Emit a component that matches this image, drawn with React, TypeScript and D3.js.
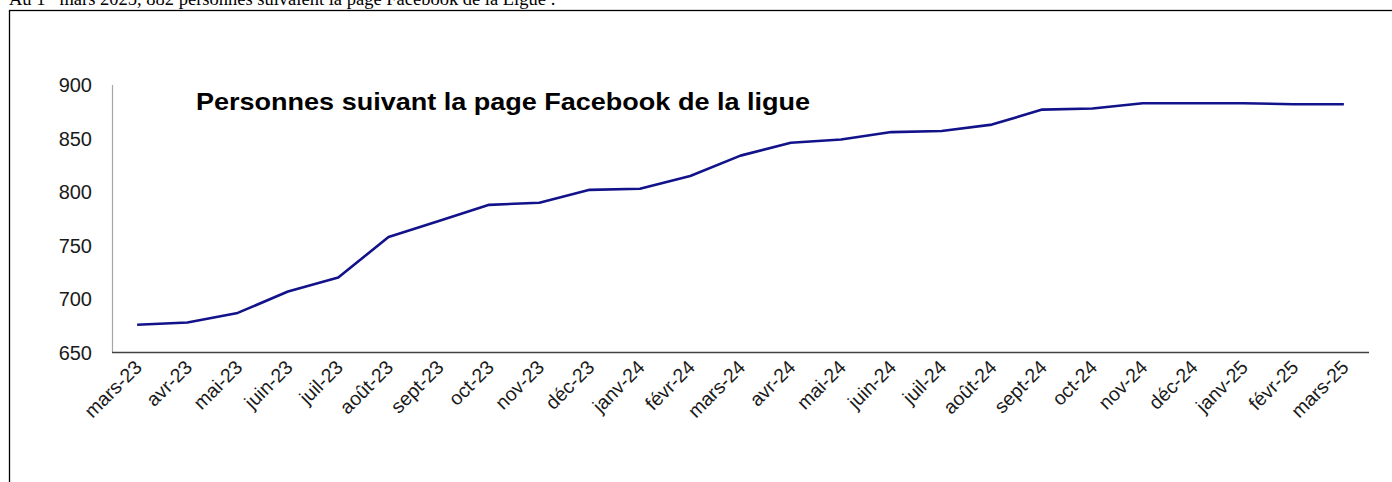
import React, { useEffect, useRef } from "react";
import * as d3 from "d3";

const months = [
  "mars-23", "avr-23", "mai-23", "juin-23", "juil-23", "août-23", "sept-23",
  "oct-23", "nov-23", "déc-23", "janv-24", "févr-24", "mars-24", "avr-24",
  "mai-24", "juin-24", "juil-24", "août-24", "sept-24", "oct-24", "nov-24",
  "déc-24", "janv-25", "févr-25", "mars-25",
];
const followers = [
  676, 678, 687, 707, 720, 758, 773, 788, 790, 802, 803, 815, 834, 846,
  849, 856, 857, 863, 877, 878, 883, 883, 883, 882, 882,
];
const yTicks = [650, 700, 750, 800, 850, 900];
const chartTitle = "Personnes suivant la page Facebook de la ligue";

export default function App() {
  const ref = useRef<SVGSVGElement | null>(null);

  useEffect(() => {
    const svg = d3.select(ref.current);
    svg.selectAll("*").remove();

    // intro sentence (clipped at top, as in the source)
    const intro = svg.append("text")
      .attr("x", 9).attr("y", 5)
      .attr("font-family", "'Liberation Serif', 'Times New Roman', serif")
      .attr("font-size", 18.5).attr("fill", "#000");
    intro.append("tspan").text("Au 1");
    intro.append("tspan").attr("dy", -7).attr("font-size", 12).text("er");
    intro.append("tspan").attr("dy", 7)
      .text(" mars 2025, 882 personnes suivaient la page Facebook de la Ligue :");

    // frame
    svg.append("rect")
      .attr("x", 9.5).attr("y", 10.5).attr("width", 1400).attr("height", 500)
      .attr("fill", "none").attr("stroke", "#000").attr("stroke-width", 1.3);

    const x = d3.scaleBand<string>().domain(months).range([112, 1369]);
    const y = d3.scaleLinear().domain([650, 900]).range([352.5, 85]);

    // y axis line
    svg.append("line")
      .attr("x1", 112.5).attr("x2", 112.5).attr("y1", y(900)).attr("y2", y(650))
      .attr("stroke", "#a6a6a6").attr("stroke-width", 1.2);
    // x axis line
    svg.append("line")
      .attr("x1", 112).attr("x2", 1369).attr("y1", y(650)).attr("y2", y(650))
      .attr("stroke", "#404040").attr("stroke-width", 1.3);

    // y tick labels
    svg.append("g").selectAll("text").data(yTicks).join("text")
      .attr("x", 92).attr("y", (d) => y(d))
      .attr("dy", "0.35em")
      .attr("text-anchor", "end")
      .attr("font-family", "'Liberation Sans', Arial, sans-serif")
      .attr("font-size", 20).attr("fill", "#1a1a1a")
      .text((d) => String(d));

    // x tick labels
    svg.append("g").selectAll("text").data(months).join("text")
      .attr("transform", (d) => `translate(${(x(d) as number) + x.bandwidth() / 2 + 6},${y(650) + 16}) rotate(-45)`)
      .attr("text-anchor", "end")
      .attr("font-family", "'Liberation Sans', Arial, sans-serif")
      .attr("font-size", 19.5).attr("fill", "#1a1a1a")
      .text((d) => d);

    // line
    const line = d3.line<number>()
      .x((_, i) => (x(months[i]) as number) + x.bandwidth() / 2)
      .y((d) => y(d));
    svg.append("path")
      .datum(followers)
      .attr("d", line)
      .attr("fill", "none")
      .attr("stroke", "#12128a")
      .attr("stroke-width", 2.6)
      .attr("stroke-linejoin", "round");

    // title
    svg.append("text")
      .attr("x", 196).attr("y", 110)
      .attr("font-family", "'Liberation Sans', Arial, sans-serif")
      .attr("font-weight", "bold")
      .attr("font-size", 24).attr("fill", "#000")
      .attr("textLength", 614)
      .attr("lengthAdjust", "spacingAndGlyphs")
      .text(chartTitle);
  }, []);

  return (
    <svg
      ref={ref}
      width={1392}
      height={482}
      style={{ position: "absolute", left: 0, top: 0, background: "#fff" }}
    />
  );
}
